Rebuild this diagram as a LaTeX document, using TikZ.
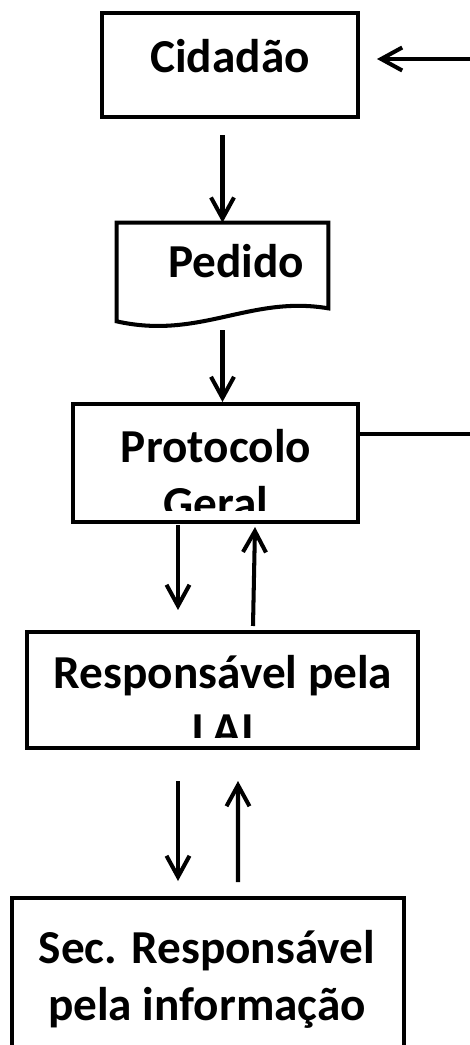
\documentclass[tikz,border=0pt]{standalone}
\usepackage{fontspec}
\setmainfont{Carlito}
\usetikzlibrary{arrows.meta,calc}

\def \lw {2.3pt}

\tikzset{
  box/.style={draw, line width=\lw, inner sep=0pt},
  txt/.style={font=\bfseries\fontsize{26.9}{32.4}\selectfont, align=center, inner sep=0pt},
  flow/.style={line width=\lw, -{Straight Barb[length=0.42cm, width=0.46cm]}}
}

\begin{document}
\begin{tikzpicture}[x=0.02cm, y=-0.02cm]
            \useasboundingbox (0,0) rectangle (470,1045);

            \node[box, minimum width=5.12cm, minimum height=2.08cm] (cid) at (230,65) {};
            \node[txt, anchor=base] (cidtxt) at (230,72) {Cidadão};

            \node[inner sep=0pt, minimum width=4.22cm, minimum height=1.96cm] (ped) at (222.5,272) {};
            \draw[line width=\lw] (ped.south west) -- (ped.north west) -- (ped.north east)
              -- ($(ped.south east)+(0,-13)$) .. controls (250,295) and (200,340) .. (ped.south west) -- cycle;
            \node[txt, anchor=base] (pedtxt) at (236,277) {Pedido};

            \node[box, minimum width=5.7cm, minimum height=2.36cm] (proto) at (215.5,463) {};
            \begin{scope}
              \clip (proto.north west) rectangle ($(proto.south east)+(0,-14)$);
              \node[txt, anchor=base] (prototxt) at (216,519) {Protocolo\\Geral};
            \end{scope}

            \node[box, minimum width=7.82cm, minimum height=2.32cm] (resp) at (222.5,690) {};
            \begin{scope}
              \clip (resp.north west) rectangle ($(resp.south east)+(0,-13)$);
              \node[txt, anchor=base] (resptxt) at (223,745) {Responsável pela\\LAI};
            \end{scope}

            \node[box, minimum width=7.84cm, minimum height=3.44cm] (sec) at (208,984) {};
            \node[txt, anchor=base] (sectxt) at (207,1020) {Sec. Responsável\\pela informação};

            \coordinate (back) at (472,59);
            \coordinate (out) at (472,434);
            \draw[flow] (back) -- ($(cid.east)+(17,-6)$);
            \draw[flow] ($(cid.south -| ped.north)+(0,16)$) -- (ped.north);
            \draw[flow] ($(ped.south)+(0,9)$) -- (ped.south |- proto.north);
            \draw[line width=\lw] (proto.east |- out) -- (out);
            \draw[flow] ($(proto.south)+(-37.5,1)$) -- ($(resp.north)+(-44.5,-20)$);
            \draw[flow] ($(resp.north)+(30.5,-4)$) -- ($(proto.south)+(39.5,3)$);
            \draw[flow] ($(resp.south)+(-44.5,31)$) -- ($(sec.north)+(-30,-15)$);
            \draw[flow] ($(sec.north)+(30,-14)$) -- ($(resp.south)+(15.5,31)$);
         \end{tikzpicture}
\end{document}
